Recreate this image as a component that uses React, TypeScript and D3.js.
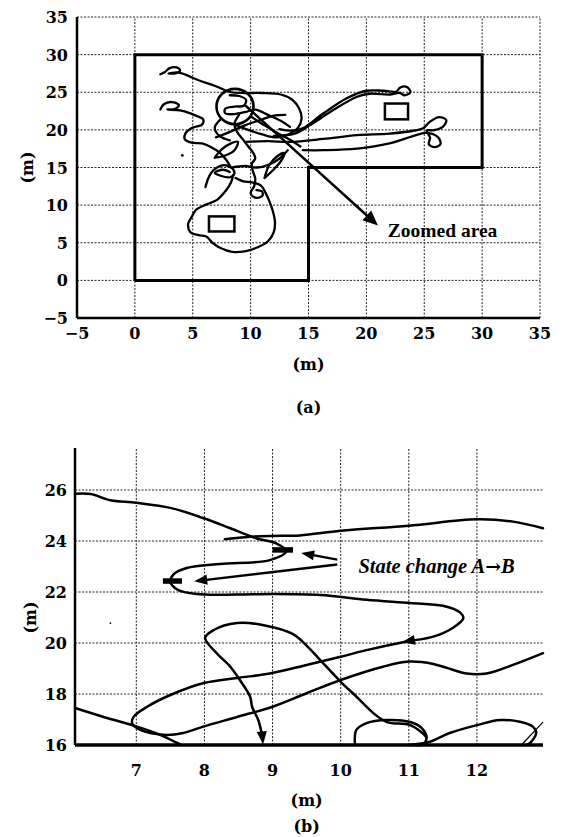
import React from "react";
import * as d3 from "d3";

type Pt = [number, number];

// ---------- panel (a): whole area ----------
const aTicks = [-5, 0, 5, 10, 15, 20, 25, 30, 35];
const aTickText = ["\u22125", "0", "5", "10", "15", "20", "25", "30", "35"];
const roomOutline: Pt[] = [[0, 0], [0, 30], [30, 30], [30, 15], [15, 15], [15, 0], [0, 0]];
const obstacles = [
  { x0: 6.4, y0: 6.5, x1: 8.6, y1: 8.5 },
  { x0: 21.6, y0: 21.4, x1: 23.6, y1: 23.5 },
];
const zoomCircle = { cx: 8.65, cy: 23.1, rx: 1.6, ry: 2.35 };
const zoomArrow: Pt[] = [[9.5, 23.3], [21.0, 7.3]];
const zoomLabel = { x: 21.85, y: 5.7, text: "Zoomed area" };
const strayDot: Pt = [4.1, 16.6];

const tracksA: Pt[][] = [
  // small loop top-left and its tail over to the big right loop
  [[2.2, 27.4], [2.6, 27.7], [3.0, 28.2], [3.6, 28.3], [3.9, 27.9], [3.5, 27.5], [2.9, 27.5], [3.8, 27.6],
   [5.5, 26.6], [7.0, 25.8], [8.3, 25.0], [9.5, 24.9], [11.0, 24.9], [12.6, 24.7], [13.6, 24.0], [14.2, 22.8],
   [14.4, 21.5], [14.1, 20.3], [13.3, 19.4], [12.2, 19.0], [11.0, 19.4], [9.8, 20.0], [8.8, 20.6]],
  // second small loop and the wavy path down
  [[2.2, 22.7], [2.5, 23.4], [3.2, 23.7], [3.8, 23.3], [3.5, 22.8], [2.8, 22.7], [3.9, 22.6], [4.8, 22.2],
   [5.4, 21.8], [5.9, 21.4], [5.8, 20.7], [5.0, 20.3], [4.4, 19.6], [4.3, 18.8], [4.9, 18.3], [5.8, 18.2],
   [6.6, 17.7], [7.3, 17.0], [7.9, 16.0], [8.3, 15.0]],
  // squiggle inside the circle
  [[8.2, 24.6], [9.0, 24.5], [9.6, 24.0], [9.4, 23.2], [8.6, 23.1], [7.8, 22.8], [7.8, 22.2], [8.6, 22.1],
   [9.6, 22.4], [10.4, 22.7], [11.5, 22.0], [12.6, 21.2], [13.4, 20.4]],
  // column down from the circle
  [[9.0, 22.0], [8.6, 20.8], [8.8, 19.8], [9.3, 18.8], [9.8, 17.8], [10.2, 17.0], [10.4, 16.2], [10.1, 15.5],
   [10.2, 14.5], [10.4, 13.5], [10.3, 12.5], [10.0, 11.6], [10.4, 11.0], [11.0, 11.2], [11.0, 11.8],
   [10.5, 12.0]],
  // leaf shapes
  [[6.9, 16.3], [7.5, 17.4], [8.3, 18.2], [8.9, 18.4], [8.6, 17.3], [7.8, 16.6], [6.9, 16.3]],
  [[11.2, 13.6], [11.9, 14.6], [12.6, 15.8], [12.9, 16.9], [12.3, 16.5], [11.6, 15.3], [11.2, 13.6]],
  [[7.0, 19.0], [8.0, 19.6], [9.5, 20.6], [10.8, 21.3], [12.0, 21.9], [13.0, 22.0]],
  [[10.0, 21.8], [11.2, 20.6], [12.3, 19.6], [13.4, 18.7], [14.3, 17.8]],
  [[8.4, 15.0], [9.5, 15.2], [10.6, 15.0], [11.6, 15.4], [12.5, 16.2], [13.2, 17.3]],
  [[7.4, 21.4], [6.9, 20.3], [7.3, 19.2], [8.2, 18.6]],
  // loop near (7,14) with the tail down-left
  [[6.1, 12.4], [6.3, 13.4], [6.6, 14.3], [7.1, 15.0], [7.8, 15.3], [8.4, 14.9], [8.6, 14.2], [8.2, 13.7],
   [7.4, 13.9], [6.9, 14.3], [7.6, 14.7], [8.2, 14.4]],
  // big blob around the obstacle
  [[8.5, 14.0], [8.3, 13.0], [7.9, 12.0], [7.1, 10.7], [6.2, 10.1], [5.3, 9.4], [4.9, 8.4], [4.6, 7.5],
   [4.8, 6.4], [5.5, 6.0], [6.2, 5.8], [6.7, 5.0], [7.4, 4.3], [8.4, 3.8], [9.6, 3.9], [10.6, 4.4],
   [11.5, 5.2], [12.0, 6.4], [12.1, 7.8], [11.9, 9.3], [11.6, 10.6], [11.3, 11.6], [10.9, 12.6],
   [10.2, 13.0], [9.3, 13.2], [8.7, 13.6]],
  // thin arm to the upper right (out and back)
  [[12.0, 19.2], [13.8, 19.5], [15.1, 20.6], [17.1, 22.6], [19.2, 24.4], [20.3, 24.8], [22.0, 24.7],
   [22.9, 24.9], [23.3, 24.6], [23.8, 25.0], [23.5, 25.7], [22.9, 25.6], [22.6, 25.1], [21.5, 25.2],
   [20.0, 25.2], [18.3, 24.2], [16.3, 22.2], [14.5, 20.2], [13.6, 19.9], [12.5, 20.1]],
  // long lower loop to the right with its two small lobes
  [[9.6, 18.4], [11.5, 18.5], [13.4, 18.4], [16.3, 18.8], [19.2, 19.3], [22.0, 19.5], [24.3, 19.95],
   [24.9, 20.2], [25.5, 21.1], [26.3, 21.7], [26.9, 21.3], [26.6, 20.4], [25.8, 19.95], [25.2, 19.9],
   [25.5, 19.0], [25.4, 18.1], [25.9, 17.7], [26.4, 18.1], [26.2, 19.0], [25.2, 19.6], [24.3, 19.3],
   [22.0, 18.2], [19.2, 17.5], [16.3, 17.3], [14.5, 17.3]],
];

// ---------- panel (b): zoomed area ----------
const bXTicks = [7, 8, 9, 10, 11, 12];
const bYTicks = [16, 18, 20, 22, 24, 26];
const stateLabel = { x: 10.26, y: 22.75, text: "State change A", arrow: "\u2192", tail: "B" };
const strayDotB: Pt = [6.62, 20.78];

const tracksB: Pt[][] = [
  [[6.1, 25.85], [6.33, 25.84], [6.62, 25.6], [7.0, 25.5], [7.5, 25.3], [7.98, 24.9], [8.38, 24.5],
   [8.77, 24.1], [9.06, 23.9], [9.2, 23.6], [8.96, 23.25], [8.23, 23.1], [7.74, 22.94], [7.55, 22.7],
   [7.5, 22.4], [7.6, 22.1], [7.89, 21.92], [8.48, 21.9], [9.0, 21.92], [9.7, 21.88], [10.38, 21.7],
   [11.02, 21.57], [11.5, 21.46], [11.75, 21.2], [11.8, 20.97], [11.65, 20.6], [11.36, 20.25],
   [10.95, 20.05], [10.38, 19.72], [10.0, 19.46], [9.5, 19.14], [8.96, 18.8], [8.48, 18.63],
   [7.99, 18.43], [7.5, 17.96], [7.16, 17.5], [6.96, 17.1], [6.94, 16.85], [7.06, 16.59], [7.4, 16.4],
   [7.69, 16.47], [7.98, 16.72], [8.48, 17.1], [9.0, 17.5], [9.5, 18.03], [10.0, 18.55], [10.62, 19.07],
   [11.0, 19.27], [11.36, 19.18], [11.85, 18.8], [12.14, 18.8], [12.53, 19.14], [12.97, 19.6]],
  [[8.3, 24.07], [8.6, 24.15], [8.96, 24.2], [9.4, 24.22], [10.0, 24.4], [11.0, 24.6], [12.0, 24.85],
   [12.53, 24.76], [12.97, 24.5]],
  [[11.26, 16.3], [11.2, 16.47], [11.02, 16.78], [10.68, 16.9], [10.48, 17.25], [10.23, 17.9],
   [10.0, 18.48], [9.7, 19.33], [9.5, 19.9], [9.3, 20.35], [8.87, 20.7], [8.48, 20.78], [8.13, 20.5],
   [8.01, 20.2], [8.18, 19.6], [8.38, 19.07], [8.52, 18.55], [8.67, 17.9], [8.7, 17.5], [8.79, 16.98],
   [8.84, 16.47], [8.86, 16.2]],
  [[10.21, 16.0], [10.23, 16.59], [10.38, 16.86], [10.68, 16.98], [11.02, 16.9], [11.19, 16.66],
   [11.26, 16.3], [11.21, 16.02], [11.1, 16.0]],
  [[11.0, 16.0], [11.31, 16.13], [11.6, 16.47], [12.0, 16.78], [12.34, 16.98], [12.63, 16.91],
   [12.82, 16.72], [12.87, 16.47], [12.78, 16.08], [12.72, 16.0]],
  [[6.1, 17.45], [6.52, 17.1], [7.01, 16.72], [7.35, 16.4], [7.6, 16.08], [7.66, 16.0]],
];
const thinTrackB: Pt[] = [[12.67, 16.05], [12.97, 16.9]];
// arrows drawn on the tracks: [from, tip]
const trackArrowsB: Pt[][] = [
  [[11.36, 20.25], [10.9, 20.03]],
  [[8.84, 16.6], [8.86, 16.02]],
];
// annotation arrows from the label
const labelArrowsB: Pt[][] = [
  [[9.95, 23.27], [9.42, 23.53]],
  [[9.95, 23.08], [7.85, 22.42]],
];
const stateBars: Pt[][] = [
  [[9.0, 23.65], [9.3, 23.65]],
  [[7.39, 22.43], [7.67, 22.43]],
];

const SERIF = "'Liberation Serif', 'Times New Roman', serif";
const TICKFONT = "'DejaVu Serif', serif";

function head(p0: [number, number], p1: [number, number], len: number, half: number) {
  const dx = p1[0] - p0[0];
  const dy = p1[1] - p0[1];
  const l = Math.hypot(dx, dy) || 1;
  const ux = dx / l, uy = dy / l;
  const bx = p1[0] - ux * len, by = p1[1] - uy * len;
  return `M${p1[0]},${p1[1]}L${bx - uy * half},${by + ux * half}L${bx + uy * half},${by - ux * half}Z`;
}

const App = () => {
  // panel (a) scales
  const xa = d3.scaleLinear().domain([-5, 35]).range([77, 540]);
  const ya = d3.scaleLinear().domain([-5, 35]).range([318, 17]);
  const lineA = d3.line<Pt>().x((d) => xa(d[0])).y((d) => ya(d[1])).curve(d3.curveCatmullRom.alpha(0.5));
  const polyA = d3.line<Pt>().x((d) => xa(d[0])).y((d) => ya(d[1]));

  // panel (b) scales
  const xb = d3.scaleLinear().domain([6.1, 12.97]).range([75, 543]);
  const yb = d3.scaleLinear().domain([16, 26]).range([745, 490]);
  const yTopB = 27.65;
  const lineB = d3.line<Pt>().x((d) => xb(d[0])).y((d) => yb(d[1])).curve(d3.curveCatmullRom.alpha(0.5));
  const pB = (d: Pt): [number, number] => [xb(d[0]), yb(d[1])];

  const grid = { stroke: "#222", strokeWidth: 1, strokeDasharray: "2,1.5" };
  const tickStyle = { fontFamily: TICKFONT, fontWeight: 700, fontSize: 16 } as const;

  const arrowA0: [number, number] = [xa(zoomArrow[0][0]), ya(zoomArrow[0][1])];
  const arrowA1: [number, number] = [xa(zoomArrow[1][0]), ya(zoomArrow[1][1])];
  const shaftEnd = (a: [number, number], b: [number, number], back: number): [number, number] => {
    const l = Math.hypot(b[0] - a[0], b[1] - a[1]);
    return [b[0] - ((b[0] - a[0]) / l) * back, b[1] - ((b[1] - a[1]) / l) * back];
  };

  return (
    <svg width={565} height={837} style={{ position: "absolute", left: 0, top: 0, background: "#fff" }}>
      {/* ===== panel (a) ===== */}
      <g>
        {aTicks.slice(1).map((t) => (
          <line key={"ax" + t} x1={xa(t)} x2={xa(t)} y1={ya(-5)} y2={ya(35)} {...grid} />
        ))}
        {aTicks.slice(1).map((t) => (
          <line key={"ay" + t} x1={xa(-5)} x2={xa(35)} y1={ya(t)} y2={ya(t)} {...grid} />
        ))}
        <line x1={xa(-5)} x2={xa(-5)} y1={ya(-5)} y2={ya(35)} stroke="#000" strokeWidth={2.5} />
        <line x1={xa(-5)} x2={xa(35)} y1={ya(-5)} y2={ya(-5)} stroke="#000" strokeWidth={2.5} />
        <path d={polyA(roomOutline) || ""} fill="none" stroke="#000" strokeWidth={3} />
        {obstacles.map((o, i) => (
          <rect key={i} x={xa(o.x0)} y={ya(o.y1)} width={xa(o.x1) - xa(o.x0)} height={ya(o.y0) - ya(o.y1)}
            fill="none" stroke="#000" strokeWidth={2.5} />
        ))}
        {tracksA.map((t, i) => (
          <path key={i} d={lineA(t) || ""} fill="none" stroke="#000" strokeWidth={2.3} strokeLinejoin="round" strokeLinecap="round" />
        ))}
        <circle cx={xa(strayDot[0])} cy={ya(strayDot[1])} r={1.4} fill="#000" />
        <ellipse cx={xa(zoomCircle.cx)} cy={ya(zoomCircle.cy)}
          rx={xa(zoomCircle.cx + zoomCircle.rx) - xa(zoomCircle.cx)}
          ry={ya(zoomCircle.cy - zoomCircle.ry) - ya(zoomCircle.cy)}
          fill="none" stroke="#000" strokeWidth={2.6} />
        <line x1={arrowA0[0]} y1={arrowA0[1]} x2={shaftEnd(arrowA0, arrowA1, 10)[0]} y2={shaftEnd(arrowA0, arrowA1, 10)[1]}
          stroke="#000" strokeWidth={2.5} />
        <path d={head(arrowA0, arrowA1, 15, 6.5)} fill="#000" />
        <text x={xa(zoomLabel.x)} y={ya(zoomLabel.y)} style={{ fontFamily: SERIF, fontWeight: 700, fontSize: 19.5 }}>
          {zoomLabel.text}
        </text>
        {aTicks.map((t, i) => (
          <text key={"lx" + t} x={xa(t)} y={ya(-5) + 21} textAnchor="middle" style={tickStyle}>{aTickText[i]}</text>
        ))}
        {aTicks.map((t, i) => (
          <text key={"ly" + t} x={68} y={ya(t) + 6} textAnchor="end" style={tickStyle}>{aTickText[i]}</text>
        ))}
        <text x={xa(15)} y={370} textAnchor="middle" style={tickStyle}>(m)</text>
        <text x={xa(15)} y={413} textAnchor="middle" style={tickStyle}>(a)</text>
        <text transform={`translate(33,${ya(15)}) rotate(-90)`} textAnchor="middle" style={tickStyle}>(m)</text>
      </g>

      {/* ===== panel (b) ===== */}
      <g>
        {bXTicks.map((t) => (
          <line key={"bx" + t} x1={xb(t)} x2={xb(t)} y1={yb(16)} y2={yb(yTopB)} {...grid} />
        ))}
        {bYTicks.slice(1).map((t) => (
          <line key={"by" + t} x1={xb(6.1)} x2={xb(12.97)} y1={yb(t)} y2={yb(t)} {...grid} />
        ))}
        <line x1={xb(6.1)} x2={xb(6.1)} y1={yb(16)} y2={yb(yTopB)} stroke="#000" strokeWidth={2.5} />
        <line x1={xb(6.1)} x2={xb(12.97)} y1={yb(16)} y2={yb(16)} stroke="#000" strokeWidth={3.5} />
        {tracksB.map((t, i) => (
          <path key={i} d={lineB(t) || ""} fill="none" stroke="#000" strokeWidth={2.5} strokeLinejoin="round" strokeLinecap="round" />
        ))}
        <path d={lineB(thinTrackB) || ""} fill="none" stroke="#000" strokeWidth={1.2} />
        <circle cx={xb(strayDotB[0])} cy={yb(strayDotB[1])} r={0.9} fill="#000" />
        {trackArrowsB.map((a, i) => (
          <path key={i} d={head(pB(a[0]), pB(a[1]), 13, 5)} fill="#000" />
        ))}
        {labelArrowsB.map((a, i) => {
          const p0 = pB(a[0]);
          const p1 = pB(a[1]);
          const e = shaftEnd(p0, p1, 8);
          return (
            <g key={i}>
              <line x1={p0[0]} y1={p0[1]} x2={e[0]} y2={e[1]} stroke="#000" strokeWidth={2.4} />
              <path d={head(p0, p1, 13, 5)} fill="#000" />
            </g>
          );
        })}
        {stateBars.map((b, i) => (
          <line key={i} x1={xb(b[0][0])} x2={xb(b[1][0])} y1={yb(b[0][1])} y2={yb(b[1][1])} stroke="#000" strokeWidth={5.5} />
        ))}
        <text x={xb(stateLabel.x)} y={yb(stateLabel.y)}
          style={{ fontFamily: SERIF, fontWeight: 700, fontStyle: "italic", fontSize: 20.5 }}>
          {stateLabel.text}
          <tspan style={{ fontFamily: TICKFONT, fontStyle: "normal", fontSize: 19 }}>{stateLabel.arrow}</tspan>
          {stateLabel.tail}
        </text>
        {bXTicks.map((t) => (
          <text key={"lbx" + t} x={xb(t)} y={yb(16) + 31} textAnchor="middle" style={tickStyle}>{t}</text>
        ))}
        {bYTicks.map((t) => (
          <text key={"lby" + t} x={67} y={yb(t) + 6} textAnchor="end" style={tickStyle}>{t}</text>
        ))}
        <text x={xb(9.5)} y={806} textAnchor="middle" style={tickStyle}>(m)</text>
        <text x={xb(9.5)} y={832} textAnchor="middle" style={tickStyle}>(b)</text>
        <text transform={`translate(36,${yb(21)}) rotate(-90)`} textAnchor="middle" style={tickStyle}>(m)</text>
      </g>
    </svg>
  );
};

export default App;
